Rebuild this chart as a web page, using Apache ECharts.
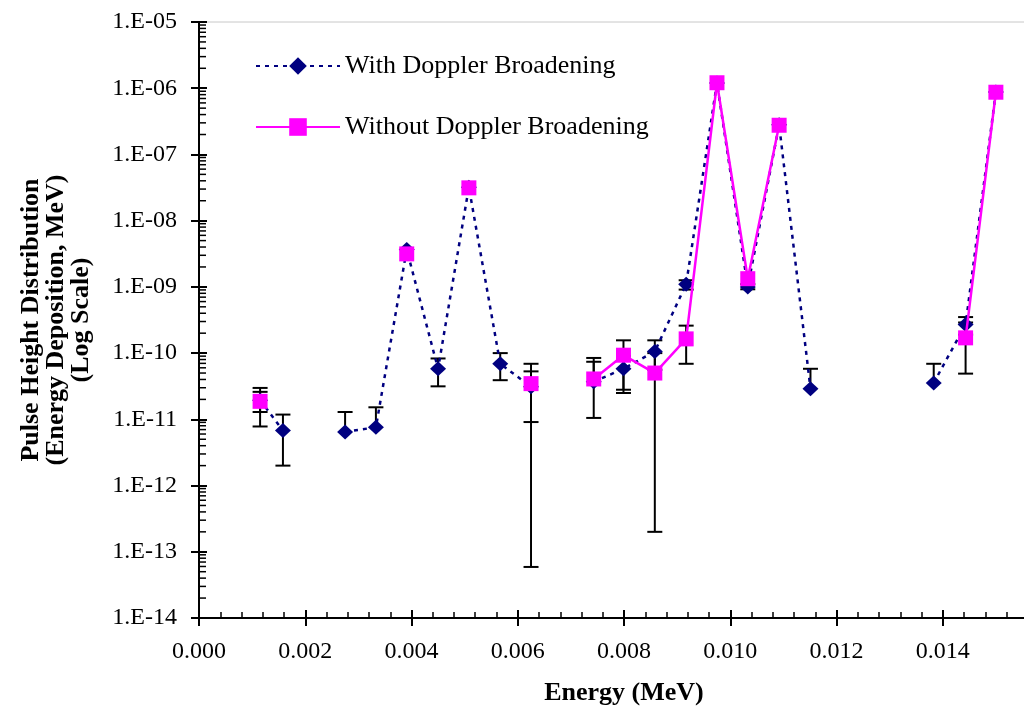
<!DOCTYPE html>
<html>
<head>
<meta charset="utf-8">
<script src="https://cdn.jsdelivr.net/npm/echarts/dist/echarts.min.js"></script>
<style>
  html, body { margin: 0; padding: 0; background: #fff; }
  #chart { width: 1024px; height: 706px; }
</style>
</head>
<body>
<div id="chart"></div>
<script>
// energy bins (MeV); null rows are empty bins that break the lines
const energy = [0.00115, 0.00158, 0.00217, 0.00275, 0.00333, 0.00391, 0.0045, 0.00508, 0.00567, 0.00625, 0.00684,
  0.00743, 0.00799, 0.00858, 0.00917, 0.00975, 0.01033, 0.01092, 0.01151, 0.0121, 0.01383, 0.01443, 0.015]

const withDoppler = [1.95e-11, 6.8e-12, null, 6.45e-12, 7.6e-12, 3.66e-9, 5.8e-11, 3.2e-8, 6.9e-11, 3.1e-11, null,
  3.7e-11, 5.8e-11, 1.06e-10, 1.1e-9, 1.2e-6, 1.0e-9, 2.8e-7, 2.9e-11, null, 3.55e-11, 2.7e-10, 8.8e-7]
const withLow = [1.29e-11, 2.0e-12, null, null, null, null, 3.15e-11, null, 3.9e-11, 9.1e-12, null,
  1.05e-11, 2.5e-11, 5.6e-11, 9.1e-10, null, 9.2e-10, null, null, null, null, 1.9e-10, null]
const withHigh = [2.6e-11, 1.18e-11, null, 1.29e-11, 1.52e-11, null, 8.3e-11, null, 1.0e-10, 5.3e-11, null,
  7.4e-11, 9.1e-11, 1.56e-10, 1.26e-9, null, 1.1e-9, null, 5.8e-11, null, 6.9e-11, 3.5e-10, null]

const withoutDoppler = [1.87e-11, null, null, null, null, 3.15e-9, null, 3.13e-8, null, 3.46e-11, null,
  4.07e-11, 9.3e-11, 5.0e-11, 1.64e-10, 1.21e-6, 1.33e-9, 2.76e-7, null, null, null, 1.7e-10, 8.7e-7]
const withoutLow = [7.8e-12, null, null, null, null, null, null, null, null, 5.9e-14, null,
  null, 2.8e-11, 2.0e-13, 6.9e-11, null, null, null, null, null, null, 4.9e-11, null]
const withoutHigh = [2.98e-11, null, null, null, null, null, null, null, null, 6.9e-11, null,
  8.45e-11, 1.56e-10, 1.0e-10, 2.6e-10, null, null, null, null, null, null, 2.9e-10, null]

const xTicks = { min: 0, max: 0.016, interval: 0.002 }
const yTicks = { min: 1e-14, max: 1e-5 }

const serif = 'Liberation Serif'

function lineData(vals) {
  return energy.map((x, i) => [x, vals[i] == null ? '-' : vals[i]])
}

function errData(vals, low, high) {
  const out = []
  energy.forEach((x, i) => {
    if (vals[i] == null || high[i] == null) return
    out.push([x, low[i] == null ? vals[i] : low[i], high[i], low[i] == null ? 0 : 1])
  })
  return out
}

// log minor ticks at 2..9 of each decade
const minorVals = []
for (let e = -14; e < -5; e++) {
  for (let k = 2; k <= 9; k++) minorVals.push([0, k * Math.pow(10, e)])
}

function renderErrorBar(params, api) {
  const x = api.value(0)
  const lo = api.coord([x, api.value(1)])
  const hi = api.coord([x, api.value(2)])
  const half = 7.5
  const style = { stroke: '#000', lineWidth: 2 }
  const children = [
    { type: 'line', shape: { x1: hi[0], y1: hi[1], x2: lo[0], y2: lo[1] }, style },
    { type: 'line', shape: { x1: hi[0] - half, y1: hi[1], x2: hi[0] + half, y2: hi[1] }, style }
  ]
  if (api.value(3) === 1) {
    children.push({ type: 'line', shape: { x1: lo[0] - half, y1: lo[1], x2: lo[0] + half, y2: lo[1] }, style })
  }
  return { type: 'group', children }
}

function renderMinorTick(params, api) {
  const p = api.coord([0, api.value(1)])
  return { type: 'line', shape: { x1: p[0], y1: p[1], x2: p[0] + 7, y2: p[1] }, style: { stroke: '#000', lineWidth: 1.5 } }
}

const chart = echarts.init(document.getElementById('chart'))
chart.setOption({
  animation: false,
  backgroundColor: '#fff',
  grid: {
    left: 199, top: 22, width: 850, height: 596, outerBoundsMode: 'none', containLabel: false,
    show: true, borderColor: '#c8c8c8', borderWidth: 1
  },
  legend: {
    left: 250, top: 48, orient: 'vertical',
    itemWidth: 84, itemHeight: 22, itemGap: 35,
    textStyle: { fontFamily: serif, fontSize: 26, color: '#000' },
    data: ['With Doppler Broadening', 'Without Doppler Broadening']
  },
  xAxis: [{
    type: 'value', min: xTicks.min, max: xTicks.max, interval: xTicks.interval,
    name: 'Energy (MeV)', nameLocation: 'middle', nameGap: 62,
    nameTextStyle: { fontFamily: serif, fontSize: 26, fontWeight: 'bold', color: '#000' },
    axisLine: { lineStyle: { color: '#000', width: 2 } },
    axisTick: { inside: true, length: 8, lineStyle: { color: '#000', width: 2 } },
    minorTick: { show: true, splitNumber: 5, length: 6, lineStyle: { color: '#000', width: 1.5 } },
    axisLabel: {
      margin: 22, fontFamily: serif, fontSize: 24, color: '#000', showMaxLabel: false,
      formatter: v => v.toFixed(3)
    },
    splitLine: { show: false }
  }, {
    type: 'value', position: 'bottom', min: xTicks.min, max: xTicks.max, interval: xTicks.interval,
    axisLine: { show: false }, axisLabel: { show: false }, splitLine: { show: false },
    axisTick: { length: 8, lineStyle: { color: '#000', width: 2 } }
  }],
  yAxis: [{
    type: 'log', logBase: 10, min: yTicks.min, max: yTicks.max,
    name: 'Pulse Height Distribution\n(Energy Deposition, MeV)\n(Log Scale)',
    nameLocation: 'middle', nameGap: 105,
    nameTextStyle: { fontFamily: serif, fontSize: 26, fontWeight: 'bold', color: '#000', lineHeight: 25 },
    axisLine: { show: true, lineStyle: { color: '#000', width: 2 } },
    axisTick: { show: true, inside: true, length: 8, lineStyle: { color: '#000', width: 2 } },
    axisLabel: {
      margin: 22, fontFamily: serif, fontSize: 24, color: '#000',
      formatter: v => {
        const e = Math.round(Math.log10(v))
        return '1.E-' + String(-e).padStart(2, '0')
      }
    },
    splitLine: { show: false }
  }, {
    type: 'log', logBase: 10, min: yTicks.min, max: yTicks.max, position: 'left',
    axisLine: { show: false }, axisLabel: { show: false }, splitLine: { show: false },
    axisTick: { show: true, length: 8, lineStyle: { color: '#000', width: 2 } }
  }],
  series: [
    {
      type: 'custom', name: 'minor', renderItem: renderMinorTick, data: minorVals,
      encode: { x: 0, y: 1 }, silent: true, z: 1
    },
    {
      type: 'custom', name: 'errWith', renderItem: renderErrorBar,
      data: errData(withDoppler, withLow, withHigh), encode: { x: 0, y: [1, 2] }, z: 1
    },
    {
      type: 'custom', name: 'errWithout', renderItem: renderErrorBar,
      data: errData(withoutDoppler, withoutLow, withoutHigh), encode: { x: 0, y: [1, 2] }, z: 1
    },
    {
      name: 'With Doppler Broadening', type: 'line', z: 3,
      data: lineData(withDoppler),
      symbol: 'diamond', symbolSize: [16, 15], showAllSymbol: true,
      itemStyle: { color: '#000080' },
      lineStyle: { color: '#000080', width: 2.5, type: [4, 5] }
    },
    {
      name: 'Without Doppler Broadening', type: 'line', z: 4,
      data: lineData(withoutDoppler),
      symbol: 'rect', symbolSize: 15, showAllSymbol: true,
      itemStyle: { color: '#ff00ff' },
      lineStyle: { color: '#ff00ff', width: 2.5, type: 'solid' }
    }
  ]
})
</script>
</body>
</html>
